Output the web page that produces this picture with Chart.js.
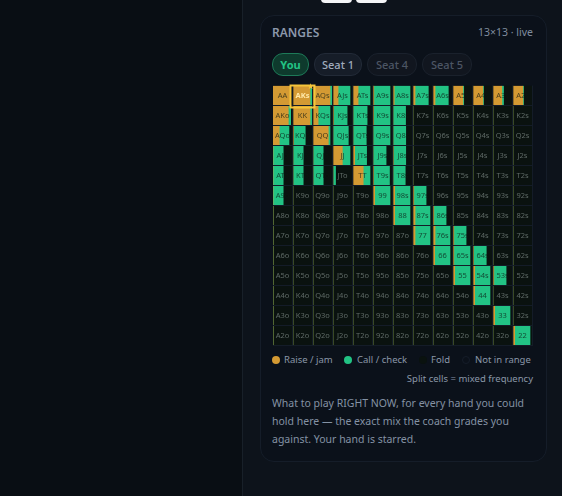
<!DOCTYPE html>
<html>
<head>
<meta charset="utf-8">
<script src="https://cdn.jsdelivr.net/npm/chart.js@4"></script>
<style>
html,body{margin:0;padding:0;width:562px;height:496px;overflow:hidden;background:#090e14;font-family:"Noto Sans",sans-serif;}
.abs{position:absolute;white-space:nowrap;}
#panel{left:242px;top:0;width:320px;height:496px;background:#0d131b;border-left:1px solid #182029;}
.topbtn{top:-8px;width:31px;height:11px;border-radius:4px;background:#f4f5f7;}
#card{left:260px;top:15px;width:285px;height:445px;background:#0b111a;border:1px solid #151d29;border-radius:14px;}
#title{left:272px;top:24px;font-size:12px;font-weight:600;color:#8b98ab;}
#size{right:29px;top:25px;font-size:10.5px;color:#7f8c9e;}
.pill{top:53px;height:21px;line-height:21px;border-radius:11px;text-align:center;font-size:11px;font-weight:500;}
#pYou{left:272px;width:35px;background:#0e3a2d;border:1px solid #1d7a58;color:#22c384;font-weight:700;}
#pS1{left:314px;width:46px;background:#161d28;border:1px solid #222a37;color:#a0acbd;}
#pS4{left:367px;width:48px;background:#11161f;border:1px solid #1a212c;color:#4c5564;}
#pS5{left:422px;width:48px;background:#11161f;border:1px solid #1a212c;color:#4c5564;}
#chartBox{left:270px;top:80px;width:266px;height:270px;}
.dot{width:8px;height:8px;border-radius:50%;top:356px;}
.leg{top:353px;font-size:9.5px;color:#8a97a8;}
#split{right:29px;top:372px;font-size:9.5px;color:#8a97a8;}
#note{left:272px;top:394px;font-size:10.5px;line-height:18px;color:#8492a4;}
</style>
</head>
<body>
<div class="abs" id="panel"></div>
<div class="abs topbtn" style="left:321px"></div>
<div class="abs topbtn" style="left:356px"></div>
<div class="abs" id="card"></div>
<div class="abs" id="title">RANGES</div>
<div class="abs" id="size">13×13 · live</div>
<div class="abs pill" id="pYou">You</div>
<div class="abs pill" id="pS1">Seat 1</div>
<div class="abs pill" id="pS4">Seat 4</div>
<div class="abs pill" id="pS5">Seat 5</div>
<div class="abs" id="chartBox"><canvas id="grid" width="266" height="270"></canvas></div>
<div class="abs dot" style="left:272px;background:#d49a33"></div>
<div class="abs leg" style="left:284px">Raise / jam</div>
<div class="abs dot" style="left:344px;background:#22c384"></div>
<div class="abs leg" style="left:357px">Call / check</div>
<div class="abs dot" style="left:419px;background:#0a120f"></div>
<div class="abs leg" style="left:431px">Fold</div>
<div class="abs dot" style="left:462px;background:#0b111a;border:1px solid #151d29;width:6px;height:6px"></div>
<div class="abs leg" style="left:475px">Not in range</div>
<div class="abs" id="split">Split cells = mixed frequency</div>
<div class="abs" id="note">What to play RIGHT NOW, for every hand you could<br>hold here — the exact mix the coach grades you<br>against. Your hand is starred.</div>
<script>
const ranks = ['A','K','Q','J','T','9','8','7','6','5','4','3','2'];

// share of each hand played as raise, row by row
const raiseFreq = [
  [1,1,1,.3,.3,.05,.07,.12,.12,.58,.58,.52,.58],
  [.9,1,.3,.03,0,.03,0,0,0,0,0,0,0],
  [.37,.03,.9,0,0,0,0,0,0,0,0,0,0],
  [0,0,0,.55,.1,0,.02,0,0,0,0,0,0],
  [0,0,0,0,.6,.03,0,0,0,0,0,0,0],
  [0,0,0,0,0,.1,.1,.05,0,0,0,0,0],
  [0,0,0,0,0,0,.1,.12,.05,0,0,0,0],
  [0,0,0,0,0,0,0,.12,.12,.05,0,0,0],
  [0,0,0,0,0,0,0,0,.1,.05,.03,0,0],
  [0,0,0,0,0,0,0,0,0,.1,.1,.05,0],
  [0,0,0,0,0,0,0,0,0,0,.1,0,0],
  [0,0,0,0,0,0,0,0,0,0,0,.1,0],
  [0,0,0,0,0,0,0,0,0,0,0,0,.1]
];
// share of each hand played as call
const callFreq = [
  [0,.14,.12,.7,.7,.95,.93,.78,.78,.05,.04,.1,.04],
  [.14,.1,.7,.8,.83,.97,.74,0,0,0,0,0,0],
  [.57,.69,.1,.9,.78,1,.75,0,0,0,0,0,0],
  [.6,.6,.6,.45,.7,.77,.73,0,0,0,0,0,0],
  [.6,.6,.6,.15,.4,.94,.72,0,0,0,0,0,0],
  [.6,0,0,0,0,.9,.9,.72,0,0,0,0,0],
  [0,0,0,0,0,0,.9,.88,.72,0,0,0,0],
  [0,0,0,0,0,0,0,.88,.88,.72,0,0,0],
  [0,0,0,0,0,0,0,0,.9,.95,.75,0,0],
  [0,0,0,0,0,0,0,0,0,.9,.9,.72,0],
  [0,0,0,0,0,0,0,0,0,0,.9,0,0],
  [0,0,0,0,0,0,0,0,0,0,0,.9,0],
  [0,0,0,0,0,0,0,0,0,0,0,0,.9]
];
const heroHand = [0,1]; // row, col of AKs

const RAISE = '#d49a33', CALL = '#22c384', FOLD = '#0a120f', GRID = '#141c28';
const cellPad = 3/17;            // room left of a full bar inside one grid cell
const cellUnits = 1 + cellPad;

function handLabel(r,c){
  if(r===c) return ranks[r]+ranks[c];
  return r<c ? ranks[r]+ranks[c]+'s' : ranks[c]+ranks[r]+'o';
}

// one raise/call/fold triple per column, stacked left to right along each row
const datasets = [];
ranks.forEach((_,c)=>{
  datasets.push({label:'raise '+c, data: raiseFreq.map(row=>row[c]), backgroundColor:RAISE});
  datasets.push({label:'call '+c, data: callFreq.map(row=>row[c]), backgroundColor:CALL});
  datasets.push({label:'fold '+c, data: raiseFreq.map((row,r)=>cellUnits-row[c]-callFreq[r][c]), backgroundColor:FOLD});
});

const cellDecor = {
  id:'cellDecor',
  afterDatasetsDraw(chart){
    const {ctx, scales:{x,y}, chartArea:a} = chart;
    ctx.save();
    // gaps between cells
    ctx.fillStyle = GRID;
    for(let c=1;c<=13;c++){
      ctx.fillRect(x.getPixelForValue(c*cellUnits)-1, a.top, 1, a.bottom-a.top);
    }
    for(let r=0;r<13;r++){
      ctx.fillRect(a.left, Math.round(y.getPixelForValue(r)+9.5), a.right-a.left, 1);
    }
    // hand names, dark only where the hand is played more often than not a sliver
    ctx.textAlign='center'; ctx.textBaseline='middle';
    ranks.forEach((_,r)=>ranks.forEach((_,c)=>{
      const inRange = raiseFreq[r][c]+callFreq[r][c]>.2;
      const hero = r===heroHand[0]&&c===heroHand[1];
      const px = x.getPixelForValue((c+.5)*cellUnits)-.5;
      const py = y.getPixelForValue(r);
      ctx.font = (hero?'700 ':'')+'7.5px "Noto Sans",sans-serif';
      ctx.fillStyle = hero ? '#ffe9a8' : inRange ? 'rgba(12,24,20,.72)' : '#5f6a66';
      ctx.fillText(handLabel(r,c),px,py);
    }));
    // hero box and star
    const hx = x.getPixelForValue(heroHand[1]*cellUnits);
    const hy = y.getPixelForValue(heroHand[0]);
    ctx.strokeStyle='#f5c53b'; ctx.lineWidth=2;
    ctx.strokeRect(hx-2.5,hy-10,24,22);
    ctx.fillStyle='#f5c53b'; ctx.font='8px "DejaVu Sans"';
    ctx.fillText('★',hx+17.5,hy-8.5);
    ctx.restore();
  }
};

new Chart(document.getElementById('grid').getContext('2d'),{
  type:'bar',
  data:{labels:ranks,datasets},
  options:{
    indexAxis:'y',
    responsive:false,
    animation:false,
    devicePixelRatio:1,
    barThickness:19,
    layout:{padding:{left:3,right:3,top:5.5,bottom:4.5}},
    plugins:{legend:{display:false},tooltip:{enabled:false}},
    scales:{
      x:{stacked:true,min:0,max:13*cellUnits,display:false},
      y:{stacked:true,display:false}
    }
  },
  plugins:[cellDecor]
});
</script>
</body>
</html>
